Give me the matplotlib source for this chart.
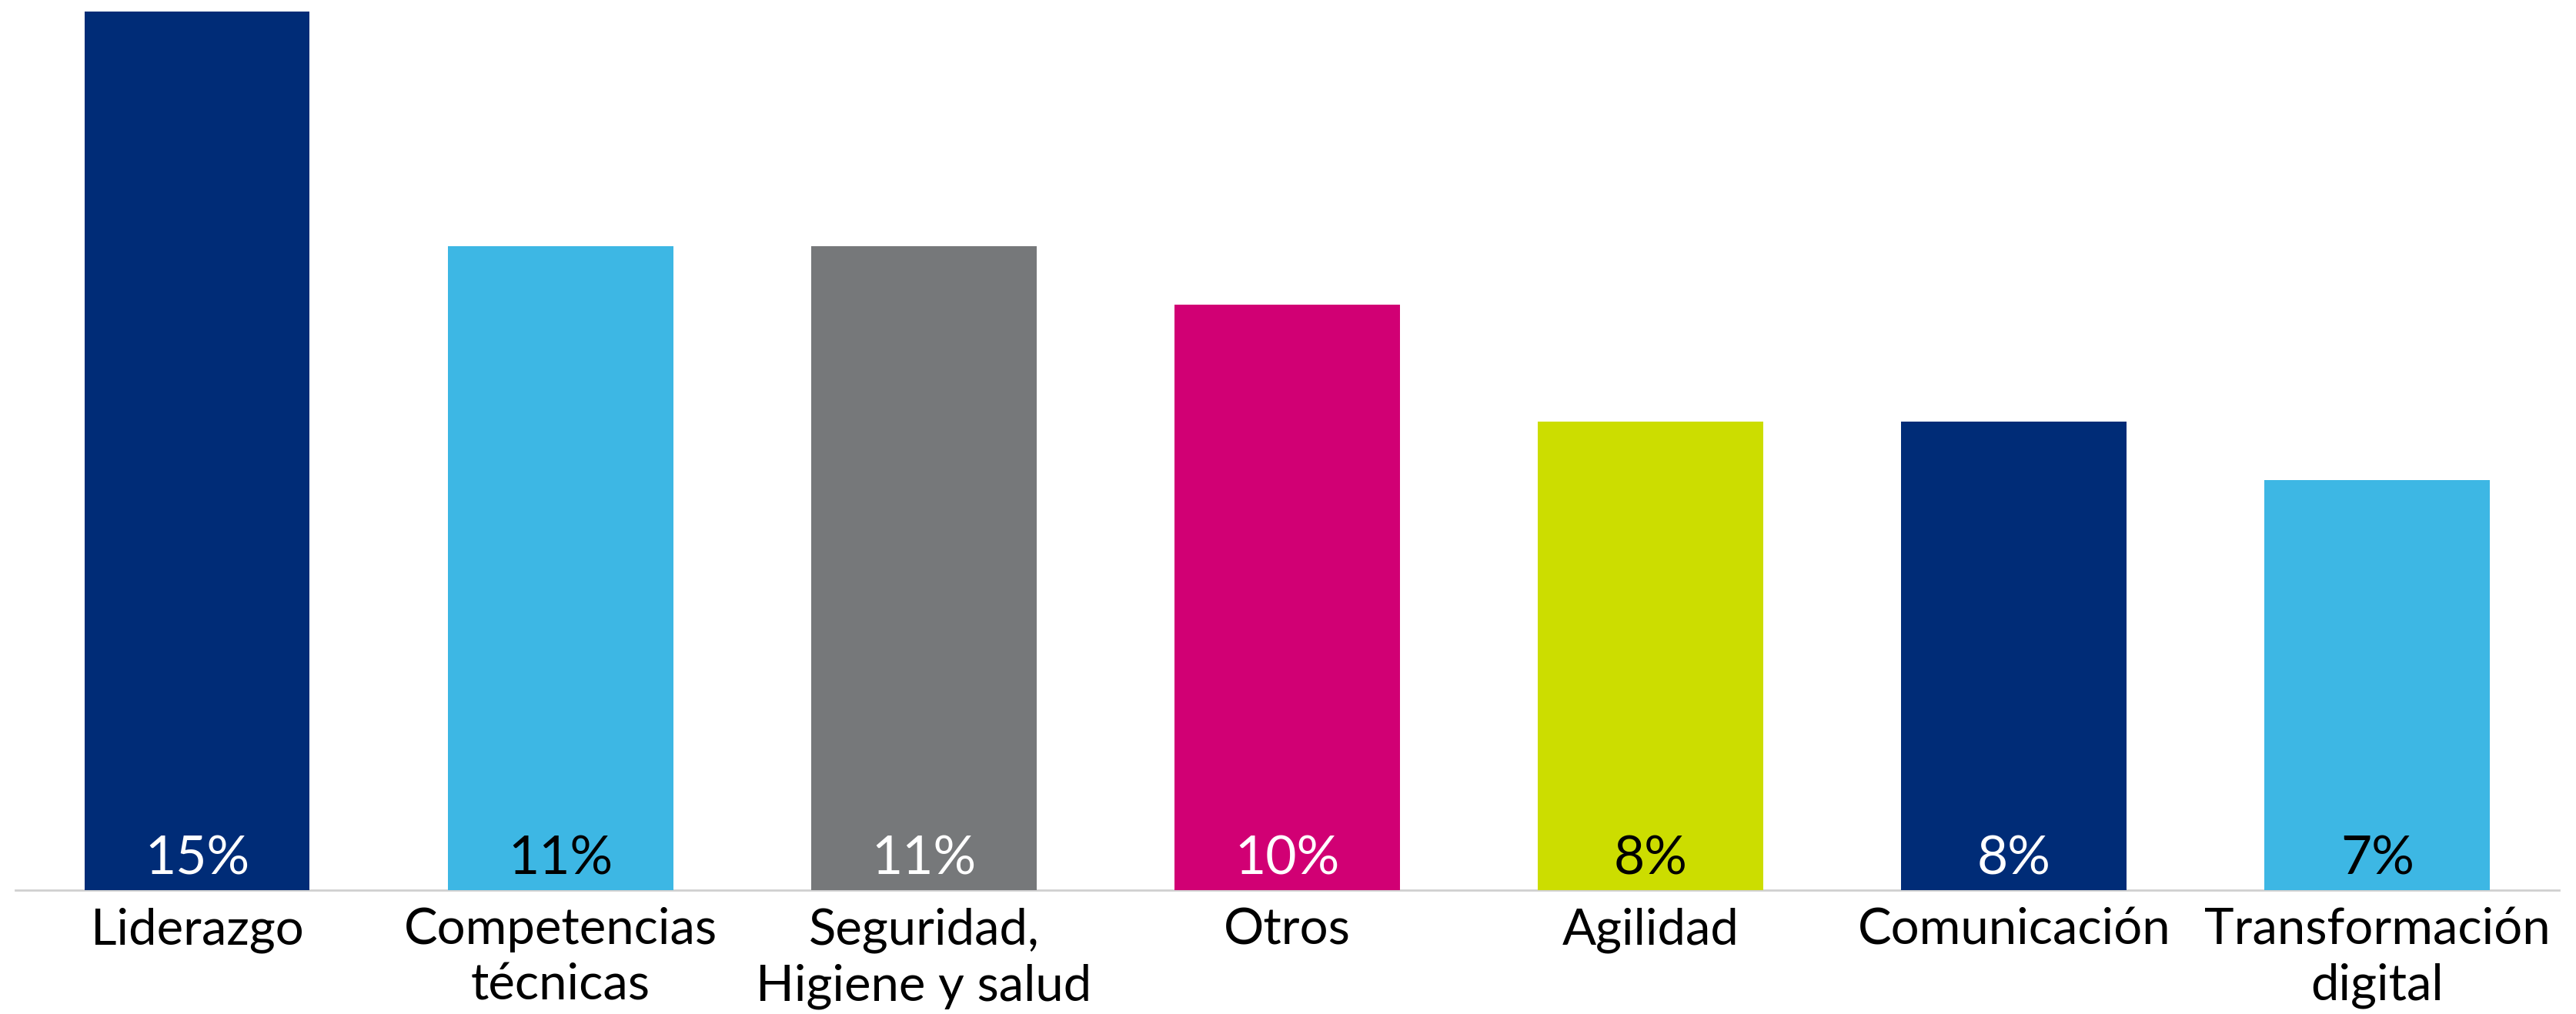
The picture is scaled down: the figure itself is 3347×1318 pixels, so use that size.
import matplotlib.pyplot as plt

# Data
categories = ['Liderazgo', 'Competencias\ntécnicas', 'Seguridad,\nHigiene y salud',
              'Otros', 'Agilidad', 'Comunicación', 'Transformación\ndigital']
values = [15, 11, 11, 10, 8, 8, 7]
labels = ['15%', '11%', '11%', '10%', '8%', '8%', '7%']

colors = ['#002C77', '#3DB7E4', '#76787A', '#D10074', '#CCDD00', '#002C77', '#3DB7E4']
label_colors = ['white', 'black', 'white', 'white', 'black', 'white', 'black']

plt.rcParams['font.family'] = ['Lato', 'DejaVu Sans']

fig = plt.figure(figsize=(33.47, 13.18), dpi=100)
ax = fig.add_axes([0.006, 0.1222, 0.9874, 0.8664])

x = range(len(categories))
ax.bar(x, values, width=0.62, color=colors, zorder=2)

# value labels sit at the bottom of each bar
for i, v in enumerate(values):
    ax.annotate(labels[i], xy=(i, 0), xytext=(0, 15), textcoords='offset points',
                ha='center', va='baseline', fontsize=50, color=label_colors[i], zorder=3)

ax.set_xlim(-0.5, 6.5)
ax.set_ylim(0, 15)
ax.set_xticks(list(x))
ax.set_xticklabels(categories, fontsize=47, linespacing=1.28)
ax.tick_params(axis='x', length=0, pad=16)
ax.set_yticks([])

for side in ['top', 'right', 'left']:
    ax.spines[side].set_visible(False)
ax.spines['bottom'].set_color('#D0D0D0')
ax.spines['bottom'].set_linewidth(2)
ax.spines['bottom'].set_zorder(1)

fig.savefig('out.png', dpi=100)
